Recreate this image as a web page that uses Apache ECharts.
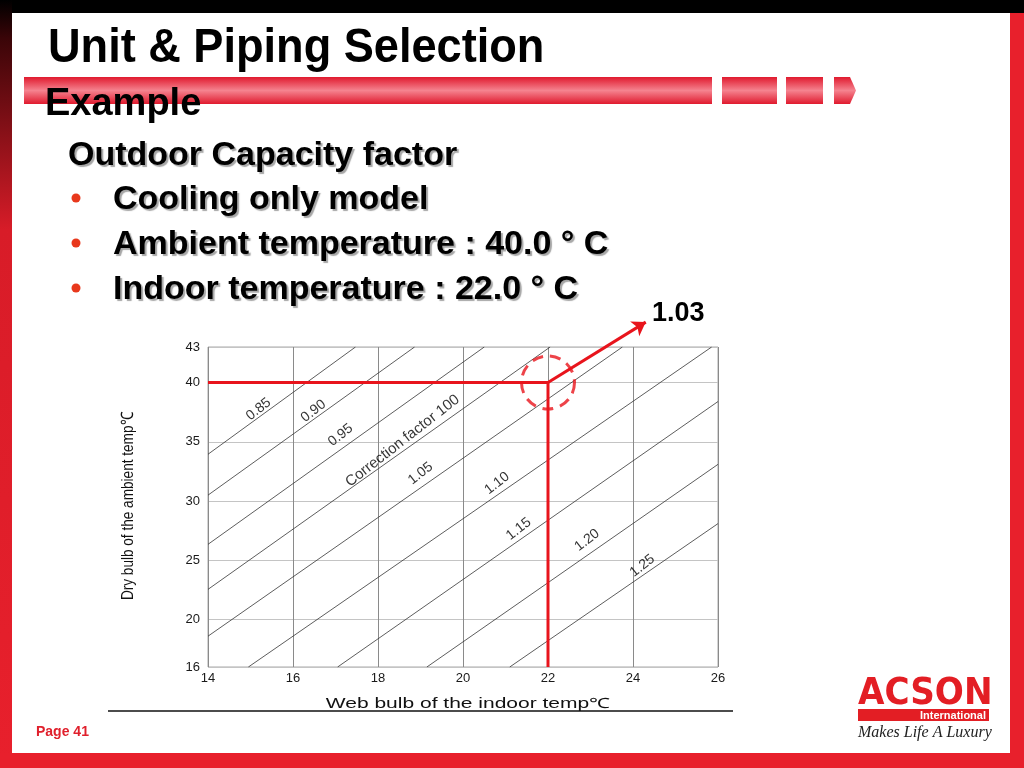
<!DOCTYPE html>
<html>
<head>
<meta charset="utf-8">
<script src="https://cdn.jsdelivr.net/npm/echarts@6.0.0/dist/echarts.min.js"></script>
<style>
html,body{margin:0;padding:0;background:#fff;}
#c{width:1024px;height:768px;}
</style>
</head>
<body>
<div id="c"></div>
<script>
// ---- chart values ----
const xTicks = [14, 16, 18, 20, 22, 24, 26];
const yTicks = [16, 20, 25, 30, 35, 40, 43];
const factorNames = ['0.85', '0.90', '0.95', 'Correction factor 100', '1.05', '1.10', '1.15', '1.20', '1.25'];
const lineStartX = [14, 14, 14, 14, 14, 14.95, 17.05, 19.15, 21.1];
const lineStartY = [33.95, 30.5, 26.35, 22.55, 18.6, 16, 16, 16, 16];
const lineEndX = [17.47, 18.86, 20.5, 22.05, 23.75, 25.85, 26, 26, 26];
const lineEndY = [43, 43, 43, 43, 43, 43, 38.4, 33.1, 28.1];
const labelX = [15.19, 16.48, 17.12, 18.58, 19.0, 20.8, 21.31, 22.92, 24.22];
const labelY = [37.75, 37.59, 35.56, 35.08, 32.33, 31.49, 27.64, 26.7, 24.54];
const labelSize = [14, 14, 14, 15, 14, 14, 14, 14, 14];
const indoorTemp = 22;
const ambientTemp = 40;
const resultFactor = '1.03';
const arrowEnd = [24.3, 45.1];
const slideTitle = 'Unit & Piping Selection';
const slideSub = 'Example';
const heading = 'Outdoor Capacity factor';
const bullets = ['Cooling only model', 'Ambient temperature : 40.0 \u00b0 C', 'Indoor temperature : 22.0 \u00b0 C'];

const RED = '#e8141c';
const chart = echarts.init(document.getElementById('c'));

const factorLines = factorNames.map((n, i) => ({
  coords: [[lineStartX[i], lineStartY[i]], [lineEndX[i], lineEndY[i]]]
}));
const factorLabelData = factorNames.map((n, i) => ({
  value: [labelX[i], labelY[i]], name: n, label: { fontSize: labelSize[i] }
}));

const barFill = () => new echarts.graphic.LinearGradient(0, 0, 0, 1, [
  { offset: 0, color: '#e01a2e' }, { offset: 0.5, color: '#f5838f' }, { offset: 1, color: '#e01a2e' }]);
const shadowText = (t, x, y, size) => ({
  type: 'text', z: 101, x: x, y: y,
  style: { text: t, font: 'bold ' + size + 'px "Liberation Sans", Arial, sans-serif', fill: '#000', textVerticalAlign: 'middle',
    textShadowColor: 'rgba(0,0,0,0.35)', textShadowOffsetX: 2, textShadowOffsetY: 2, textShadowBlur: 1 }
});

const option = {
  backgroundColor: '#ffffff',
  animation: false,
  grid: {
    left: 208, top: 347, width: 510, height: 320,
    show: true, borderColor: '#a8a8a8', borderWidth: 1, backgroundColor: '#fff',
    containLabel: false, outerBoundsMode: 'none'
  },
  xAxis: {
    type: 'value', min: 14, max: 26, interval: 2,
    axisLine: { show: false }, axisTick: { show: false },
    axisLabel: { fontSize: 13, color: '#1a1a1a', margin: 5, fontFamily: 'Liberation Sans, Arial, sans-serif' },
    splitLine: { show: true, lineStyle: { color: '#8a8a8a', width: 1 } }
  },
  yAxis: {
    type: 'value', min: 16, max: 43,
    axisLine: { show: false },
    axisTick: { show: false, customValues: yTicks },
    axisLabel: { customValues: yTicks, fontSize: 13, color: '#1a1a1a', margin: 8, fontFamily: 'Liberation Sans, Arial, sans-serif' },
    splitLine: { show: true, lineStyle: { color: '#c4c4c4', width: 1 } }
  },
  series: [
    {
      type: 'lines', coordinateSystem: 'cartesian2d', silent: true, clip: true,
      lineStyle: { color: '#333', width: 0.8, opacity: 1 },
      data: factorLines
    },
    {
      type: 'scatter', symbolSize: 0, silent: true,
      data: factorLabelData,
      label: {
        show: true, position: 'inside', rotate: 38,
        formatter: p => p.name, fontSize: 14, color: '#000',
        fontFamily: 'Liberation Sans, Arial, sans-serif'
      }
    },
    {
      type: 'line', symbol: 'none', silent: true,
      lineStyle: { color: RED, width: 3 },
      data: [[14, ambientTemp], [indoorTemp, ambientTemp], [indoorTemp, 16]]
    },
    {
      type: 'scatter', silent: true, symbol: 'circle', symbolSize: 53,
      itemStyle: { color: 'rgba(0,0,0,0)', borderColor: RED, borderWidth: 3, borderType: [11, 7] },
      data: [[indoorTemp, ambientTemp]]
    },
    {
      type: 'lines', coordinateSystem: 'cartesian2d', silent: true, clip: false,
      symbol: ['none', 'arrow'], symbolSize: 13,
      lineStyle: { color: RED, width: 3, opacity: 1 },
      data: [{ coords: [[indoorTemp, ambientTemp], arrowEnd] }]
    }
  ],
  graphic: [
    // slide frame
    { type: 'rect', z: 100, shape: { x: 0, y: 0, width: 1024, height: 13 }, style: { fill: '#000' } },
    { type: 'rect', z: 100, shape: { x: 0, y: 0, width: 12, height: 768 },
      style: { fill: new echarts.graphic.LinearGradient(0, 0, 0, 1, [
        { offset: 0, color: '#000' }, { offset: 0.05, color: '#3a0508' },
        { offset: 0.3, color: '#d81c28' }, { offset: 1, color: '#e8202c' }]) } },
    { type: 'rect', z: 100, shape: { x: 1010, y: 13, width: 14, height: 755 }, style: { fill: '#e8202c' } },
    { type: 'rect', z: 100, shape: { x: 0, y: 753, width: 1024, height: 15 }, style: { fill: '#e8202c' } },
    // header bar
    { type: 'rect', z: 100, shape: { x: 24, y: 77, width: 688, height: 27 }, style: { fill: barFill() } },
    { type: 'rect', z: 100, shape: { x: 722, y: 77, width: 55, height: 27 }, style: { fill: barFill() } },
    { type: 'rect', z: 100, shape: { x: 786, y: 77, width: 37, height: 27 }, style: { fill: barFill() } },
    { type: 'polygon', z: 100, shape: { points: [[834, 77], [850, 77], [856, 90.5], [850, 104], [834, 104]] }, style: { fill: barFill() } },
    // titles
    { type: 'text', z: 101, x: 48, y: 49, scaleX: 0.94,
      style: { text: slideTitle, font: 'bold 48px "Liberation Sans", Arial, sans-serif', fill: '#000', textVerticalAlign: 'middle' } },
    { type: 'text', z: 101, x: 45, y: 105,
      style: { text: slideSub, font: 'bold 38px "Liberation Sans", Arial, sans-serif', fill: '#000', textVerticalAlign: 'middle' } },
    shadowText(heading, 68, 156, 34),
    ...bullets.map((b, i) => shadowText(b, 113, 200 + i * 45, 34)),
    ...bullets.map((b, i) => ({ type: 'circle', z: 101, shape: { cx: 76, cy: 198 + i * 45, r: 4.5 }, style: { fill: '#e8381c' } })),
    { type: 'text', z: 101, x: 652, y: 314,
      style: { text: resultFactor, font: 'bold 27px "Liberation Sans", Arial, sans-serif', fill: '#000', textVerticalAlign: 'middle' } },
    // axis titles
    { type: 'text', z: 101, x: 468, y: 704, scaleX: 1.5,
      style: { text: 'Web bulb of the indoor temp\u2103', font: 'normal 14px "Liberation Sans", Arial, sans-serif', fill: '#111',
        textAlign: 'center', textVerticalAlign: 'middle' } },
    { type: 'text', z: 101, x: 128, y: 506, rotation: Math.PI / 2, scaleX: 0.8,
      style: { text: 'Dry bulb of the ambient temp\u2103', font: 'normal 17px "Liberation Sans", Arial, sans-serif', fill: '#111',
        textAlign: 'center', textVerticalAlign: 'middle' } },
    { type: 'line', z: 101, shape: { x1: 108, y1: 711, x2: 733, y2: 711 }, style: { stroke: '#111', lineWidth: 1.5 } },
    // footer
    { type: 'text', z: 101, x: 36, y: 732,
      style: { text: 'Page 41', font: 'bold 14px "Liberation Sans", Arial, sans-serif', fill: '#e0202c', textVerticalAlign: 'middle' } },
    // logo
    { type: 'text', z: 101, x: 858, y: 694, scaleX: 0.9,
      style: { text: 'ACSON', font: 'bold 38px "DejaVu Sans", sans-serif', fill: '#e31e24', textVerticalAlign: 'middle' } },
    { type: 'rect', z: 101, shape: { x: 858, y: 709, width: 131, height: 12 }, style: { fill: '#e31e24' } },
    { type: 'text', z: 102, x: 986, y: 715.5,
      style: { text: 'International', font: 'bold 11px "Liberation Sans", Arial, sans-serif', fill: '#fff', textAlign: 'right', textVerticalAlign: 'middle' } },
    { type: 'text', z: 101, x: 858, y: 733,
      style: { text: 'Makes Life A Luxury', font: 'italic 16px "Liberation Serif", serif', fill: '#222', textVerticalAlign: 'middle' } }
  ]
};
chart.setOption(option);
</script>
</body>
</html>
